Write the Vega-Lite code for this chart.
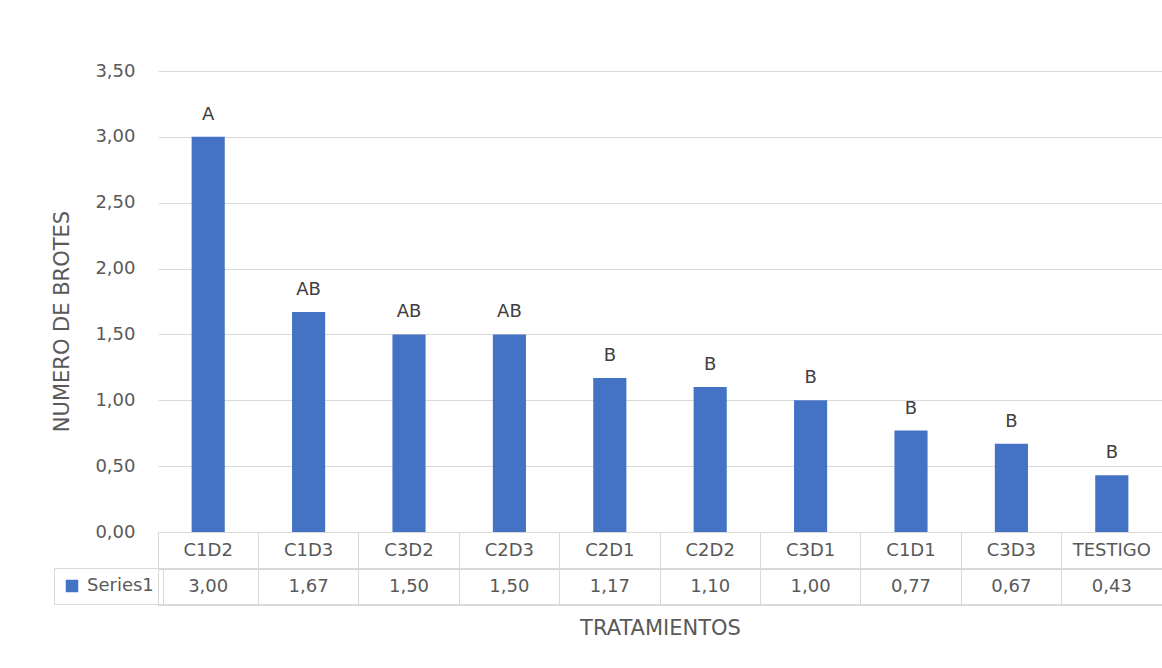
{
  "$schema": "https://vega.github.io/schema/vega-lite/v6.json",
  "autosize": {"type": "none"},
  "padding": {"left": 158, "top": 71, "right": 0, "bottom": 136},
  "width": 1004,
  "height": 461,
  "background": "white",
  "config": {
    "locale": {"number": {"decimal": ",", "thousands": ".", "grouping": [3], "currency": ["", " €"]}},
    "view": {"stroke": null},
    "font": "DejaVu Sans",
    "axis": {"labelFont": "DejaVu Sans", "titleFont": "DejaVu Sans", "labelColor": "#595959", "titleColor": "#595959", "labelFontSize": 18, "titleFontSize": 21, "titleFontWeight": "normal"}
  },
  "data": {
    "values": [
      {"tratamiento": "C1D2", "valor": 3.00, "letra": "A", "serie": "Series1"},
      {"tratamiento": "C1D3", "valor": 1.67, "letra": "AB", "serie": "Series1"},
      {"tratamiento": "C3D2", "valor": 1.50, "letra": "AB", "serie": "Series1"},
      {"tratamiento": "C2D3", "valor": 1.50, "letra": "AB", "serie": "Series1"},
      {"tratamiento": "C2D1", "valor": 1.17, "letra": "B", "serie": "Series1"},
      {"tratamiento": "C2D2", "valor": 1.10, "letra": "B", "serie": "Series1"},
      {"tratamiento": "C3D1", "valor": 1.00, "letra": "B", "serie": "Series1"},
      {"tratamiento": "C1D1", "valor": 0.77, "letra": "B", "serie": "Series1"},
      {"tratamiento": "C3D3", "valor": 0.67, "letra": "B", "serie": "Series1"},
      {"tratamiento": "TESTIGO", "valor": 0.43, "letra": "B", "serie": "Series1"}
    ]
  },
  "layer": [
    {
      "mark": {"type": "bar", "color": "#4472C4", "width": {"band": 0.33}},
      "encoding": {
        "x": {
          "field": "tratamiento", "type": "nominal", "sort": null, "title": "TRATAMIENTOS",
          "scale": {"paddingInner": 0, "paddingOuter": 0},
          "axis": {"orient": "bottom", "domainColor": "#d9d9d9", "tickColor": "#d9d9d9", "tickSize": 73, "bandPosition": 0, "labelAngle": 0, "labelAlign": "center", "labelOffset": 0, "labelPadding": -55, "labelBaseline": "middle", "titleY": 96, "titleBaseline": "middle", "grid": false}
        },
        "y": {
          "field": "valor", "type": "quantitative", "title": "NUMERO DE BROTES",
          "scale": {"domain": [0, 3.5], "nice": false},
          "axis": {"values": [0, 0.5, 1, 1.5, 2, 2.5, 3, 3.5], "format": ".2f", "domain": false, "ticks": false, "labelPadding": 23, "gridColor": "#d9d9d9", "titleX": -96, "titleY": 250, "titleBaseline": "middle"}
        },
        "color": {
          "field": "serie", "type": "nominal", "scale": {"range": ["#4472C4"]},
          "legend": {"orient": "none", "legendX": -104, "legendY": 497, "title": null, "symbolType": "square", "symbolSize": 156, "symbolStrokeWidth": 0, "labelFontSize": 18, "labelColor": "#595959", "labelFont": "DejaVu Sans", "labelOffset": 6, "padding": 9, "strokeColor": "#d9d9d9"}
        }
      }
    },
    {
      "mark": {"type": "text", "baseline": "alphabetic", "dy": -17, "fontSize": 18, "color": "#404040"},
      "encoding": {
        "x": {"field": "tratamiento", "type": "nominal", "sort": null, "title": "TRATAMIENTOS"},
        "y": {"field": "valor", "type": "quantitative", "title": "NUMERO DE BROTES"},
        "text": {"field": "letra"}
      }
    },
    {
      "mark": {"type": "text", "baseline": "middle", "fontSize": 18, "color": "#595959"},
      "encoding": {
        "x": {"field": "tratamiento", "type": "nominal", "sort": null, "title": "TRATAMIENTOS"},
        "y": {"datum": -0.42, "title": "NUMERO DE BROTES"},
        "text": {"field": "valor", "type": "quantitative", "format": ".2f"}
      }
    },
    {
      "mark": {"type": "rule", "color": "#d9d9d9", "strokeWidth": 1.5},
      "encoding": {"y": {"datum": -0.2815, "title": "NUMERO DE BROTES"}}
    },
    {
      "mark": {"type": "rule", "color": "#d9d9d9", "strokeWidth": 1.5},
      "encoding": {"y": {"datum": -0.557, "title": "NUMERO DE BROTES"}}
    }
  ]
}
